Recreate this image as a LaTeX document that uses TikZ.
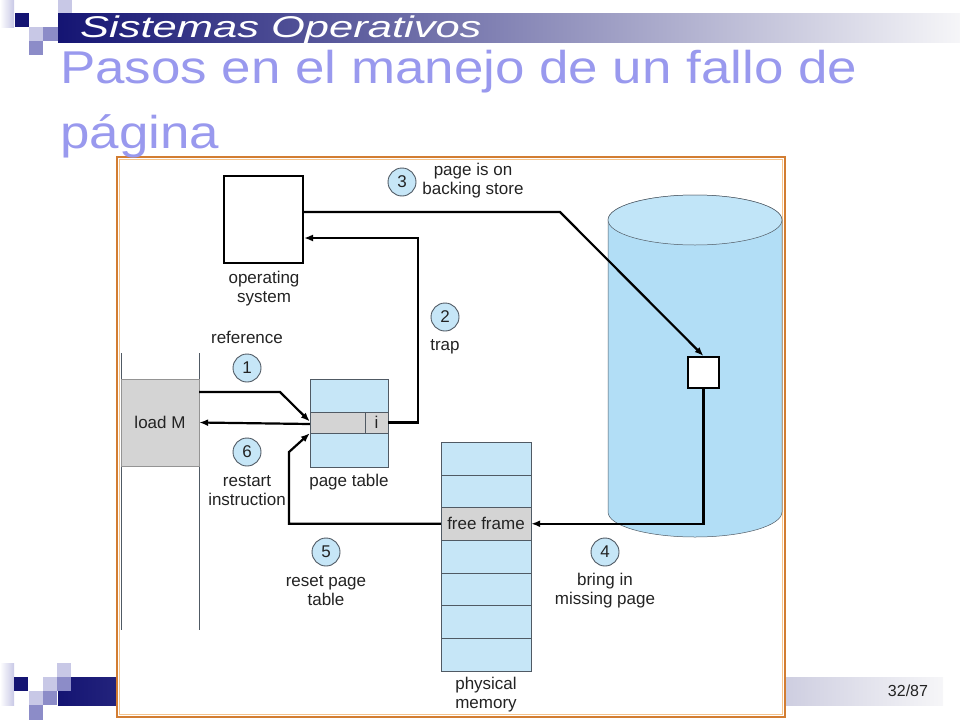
\documentclass[tikz,border=0pt]{standalone}
\usepackage{fontspec}
\setmainfont{Liberation Sans}
\newfontfamily\titlefont[FakeStretch=1.15]{Liberation Sans}
\newfontfamily\bannerfont[FakeStretch=1.45]{Liberation Sans}
\usetikzlibrary{arrows.meta}
\definecolor{navy}{RGB}{20,20,115}
\definecolor{midsq}{RGB}{140,140,200}
\definecolor{lightsq}{RGB}{200,200,230}
\definecolor{bannermid}{RGB}{150,150,185}
\definecolor{bannerend}{RGB}{246,246,248}
\definecolor{titlec}{RGB}{153,153,238}
\definecolor{txt}{RGB}{35,35,35}
\definecolor{lblue}{RGB}{198,230,247}
\definecolor{cyldark}{RGB}{178,222,246}
\definecolor{cyllight}{RGB}{236,247,253}
\definecolor{slot}{RGB}{212,212,212}
\definecolor{edge}{RGB}{80,90,100}
\definecolor{framec}{RGB}{210,125,50}
\definecolor{framein}{RGB}{245,196,140}
\begin{document}
\begin{tikzpicture}[x=1pt,y=-1pt,>={Latex[length=9pt,width=7pt]},
    lbl/.style={align=center,text=txt,inner sep=0pt,font=\fontsize{17}{19}\selectfont},
    stepnum/.style={circle,draw=edge,line width=0.9pt,fill=lblue,minimum size=28pt,inner sep=0pt,text=txt,font=\fontsize{17}{19}\selectfont},
    conn/.style={->,line width=2.2pt},
    memslot/.style={draw=edge,fill=lblue,minimum width=90pt,minimum height=32.7pt,inner sep=0pt,text=txt,font=\fontsize{17}{19}\selectfont},
    greycell/.style={draw=edge,fill=slot,inner sep=0pt,text=txt,font=\fontsize{17}{19}\selectfont}]
    \useasboundingbox (0,0) rectangle (960,720);
    % slide decoration
    \shade[left color=white,right color=lightsq] (0,0) rectangle (14,27);
    \fill[navy] (15,13) rectangle (29,27);
    \fill[lightsq] (29,27) rectangle (43,41);
    \fill[midsq] (43,27) rectangle (58,41);
    \fill[lightsq] (58,0) rectangle (72,13);
    \fill[midsq] (29,41) rectangle (43,55);
    \shade[left color=navy,middle color=bannermid,right color=bannerend] (58,13) rectangle (960,42);
    \node[anchor=base west,inner sep=0pt,text=white,font=\bannerfont\itshape\fontsize{30}{30}\selectfont] (banner) at (80,37) {Sistemas Operativos};
    \shade[left color=white,right color=lightsq] (0,663) rectangle (14,705);
    \fill[navy] (14,677) rectangle (28,691);
    \shade[left color=navy,middle color=bannermid,right color=bannerend] (58,677) rectangle (943,705);
    \fill[lightsq] (43,677) rectangle (57,691);
    \fill[midsq] (57,677) rectangle (71,691);
    \fill[lightsq] (57,663) rectangle (71,677);
    \fill[lightsq] (29,691) rectangle (43,705);
    \fill[midsq] (43,691) rectangle (57,705);
    \fill[midsq] (29,705) rectangle (43,720);
    \node[text=txt,inner sep=0pt,font=\fontsize{16}{16}\selectfont] (pageno) at (908,691) {32/87};
    % frame
    \filldraw[fill=white,draw=framec,line width=1.6pt] (117,157) rectangle (785,717);
    \draw[framein,line width=1pt] (119.5,159.5) rectangle (782.5,714.5);
    \node[anchor=base west,inner sep=0pt,text=titlec,font=\titlefont\fontsize{46}{46}\selectfont] (title1) at (60,83) {Pasos en el manejo de un fallo de};
    \node[anchor=base west,inner sep=0pt,text=titlec,font=\titlefont\fontsize{46}{46}\selectfont] (title2) at (60,148) {página};
    % backing store
    \shade[left color=cyldark,middle color=cyllight,right color=cyldark,draw=edge,line width=0.5pt]
        (608,220) -- (608,512) arc[start angle=180,end angle=360,x radius=87pt,y radius=25pt]
        -- (782,220) arc[start angle=0,end angle=180,x radius=87pt,y radius=25pt] -- cycle;
    \shade[left color=cyldark!80,middle color=cyllight!60,right color=cyldark!80,draw=edge,line width=0.5pt]
        (695,220) ellipse[x radius=87pt,y radius=25pt];
    \node[draw,fill=white,line width=2pt,minimum size=31pt,inner sep=0pt] (blk) at (703.5,372.5) {};
    % program
    \draw[edge,line width=0.9pt] (121,353) -- (121,630);
    \draw[edge,line width=0.9pt] (199,353) -- (199,630);
    \node[greycell,draw=slot!70!black,minimum width=78pt,minimum height=87pt] (load) at (160,422.5) {load M};
    \node[draw,fill=white,line width=2pt,minimum width=79pt,minimum height=87pt] (os) at (263.5,219.5) {};
    \node[lbl] (oslbl) at (264,289) {operating\\system};
    % page table
    \node[draw=edge,fill=lblue,minimum width=78pt,minimum height=88pt] (pt) at (349,423) {};
    \node[greycell,minimum width=55pt,minimum height=21pt] (pte) at (337.5,422.5) {};
    \node[greycell,minimum width=23pt,minimum height=21pt] (ptbit) at (376.5,422.5) {i};
    \node[lbl] (ptlbl) at (349,482) {page table};
    % physical memory
    \foreach \i in {0,1,3,4,5,6}
        \node[memslot] (f\i) at (486,{458.35+32.7*\i}) {};
    \node[memslot,fill=slot] (f2) at (486,523.75) {free frame};
    \node[lbl] (memlbl) at (486,695) {physical\\memory};
    % steps
    \node[lbl] (reflbl) at (247,337) {reference};
    \node[stepnum] (s1) at (247,368) {1};
    \node[stepnum] (s2) at (445,317) {2};
    \node[lbl] (traplbl) at (445,347) {trap};
    \node[stepnum] (s3) at (402,182) {3};
    \node[lbl] (bslbl) at (473,181) {page is on\\backing store};
    \node[stepnum] (s4) at (605,552) {4};
    \node[lbl] (bringlbl) at (605,591) {bring in\\missing page};
    \node[stepnum] (s5) at (326,552) {5};
    \node[lbl] (resetlbl) at (326,591) {reset page\\table};
    \node[stepnum] (s6) at (247,452) {6};
    \node[lbl] (restartlbl) at (247,491) {restart\\instruction};
    % connectors
    \coordinate (refbend) at (280,392);
    \coordinate (trapbend) at (418,238);
    \coordinate (bsbend) at (560,212);
    \coordinate (resetbend) at (289,452);
    \draw[conn] (load.east |- refbend) -- (refbend) -- ([yshift=1pt]pte.west);
    \draw[conn] (ptbit.east) -| (trapbend) -- (os.east |- trapbend);
    \draw[conn] (os.east |- bsbend) -- (bsbend) -- (blk.north);
    \draw[conn] (blk.south) |- (f2.east);
    \draw[conn] (f2.west) -| (resetbend) -- (pte.south west);
    \draw[conn] ([yshift=-1.5pt]pte.west) -- (load.east |- pte.west);
\end{tikzpicture}
\end{document}
